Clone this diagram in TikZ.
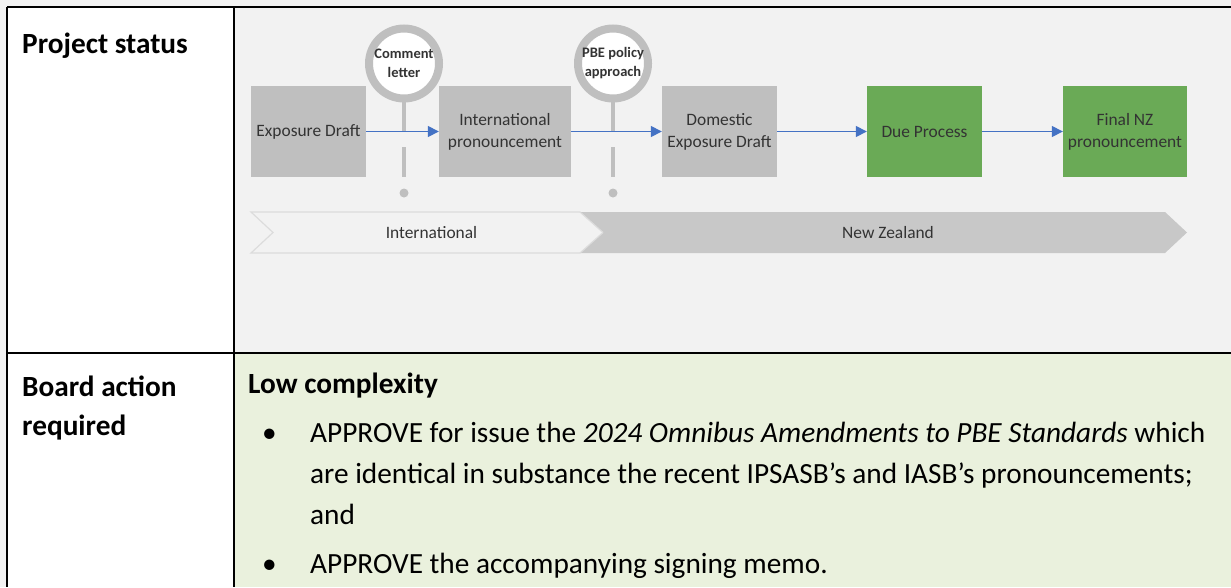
\documentclass[tikz,border=0pt]{standalone}
\usepackage{fontspec}
\setmainfont{Carlito}
\usetikzlibrary{arrows.meta}
\definecolor{bggray}{HTML}{F2F2F2}
\definecolor{boxgray}{HTML}{BFBFBF}
\definecolor{nzgray}{HTML}{C8C8C8}
\definecolor{chevline}{HTML}{DCDCDC}
\definecolor{boxgreen}{HTML}{6AAA56}
\definecolor{flowblue}{HTML}{4472C4}
\definecolor{cellgreen}{HTML}{EAF1DD}
\definecolor{txtgray}{HTML}{333333}
\begin{document}
\begin{tikzpicture}[x=1pt,y=-1pt,
  stage/.style={draw=none,inner sep=0pt,align=center,text=txtgray,font=\fontsize{17.4}{22}\selectfont},
  flow/.style={draw=flowblue,line width=1.5pt,-{Triangle[length=11pt,width=11pt]}},
  ring/.style={circle,draw=boxgray,line width=8pt,fill=white,minimum size=70pt,inner sep=0pt,align=center,font=\bfseries\fontsize{14.5}{19}\selectfont,text=txtgray},
  stem/.style={draw=boxgray,line width=4.5pt},
  bandtext/.style={inner sep=0pt,text=txtgray,font=\fontsize{17.4}{20}\selectfont},
  cellhead/.style={anchor=base west,inner sep=0pt,font=\bfseries\fontsize{29.3}{33}\selectfont},
  bodytext/.style={anchor=base west,inner sep=0pt,font=\fontsize{29.3}{33}\selectfont},
  tblline/.style={draw=black,line width=2pt}
]
\useasboundingbox (0,0) rectangle (1231,587);
\fill[bggray] (0,0) rectangle (1231,587);
\fill[white] (7,7) rectangle (234,587);
\fill[bggray] (234,7) rectangle (1231,353);
\fill[cellgreen] (234,353) rectangle (1231,587);

% stage boxes
\node[stage,fill=boxgray,minimum width=115pt,minimum height=91pt] (ed) at (308.5,131.5) {Exposure Draft};
\node[stage,fill=boxgray,minimum width=132pt,minimum height=91pt] (ip) at (505,131.5) {International\\pronouncement};
\node[stage,fill=boxgray,minimum width=115pt,minimum height=91pt] (ded) at (719.5,131.5) {Domestic\\Exposure Draft};
\node[stage,fill=boxgreen,minimum width=115pt,minimum height=91pt] (dp) at (924.5,131.5) {Due Process};
\node[stage,fill=boxgreen,minimum width=124pt,minimum height=91pt] (fin) at (1125,131.5) {Final NZ\\pronouncement};

% stems and rings
\coordinate (s1top) at (404,100);
\coordinate (s1bot) at (404,132);
\coordinate (d1a) at (404,147);
\coordinate (d1b) at (404,177);
\coordinate (s2top) at (613,100);
\coordinate (s2bot) at (613,132);
\coordinate (d2a) at (613,147);
\coordinate (d2b) at (613,177);
\draw[stem] (s1top) -- (s1bot);
\draw[stem] (d1a) -- (d1b);
\draw[stem] (s2top) -- (s2bot);
\draw[stem] (d2a) -- (d2b);
\fill[boxgray] (404,193) circle (4.5pt);
\fill[boxgray] (613,193) circle (4.5pt);
\node[ring] (cl) at (404,63.5) {Comment\\letter};
\node[ring] (pbe) at (613,63.5) {PBE policy\\approach};

% arrows
\draw[flow] (ed) -- (ip);
\draw[flow] (ip) -- (ded);
\draw[flow] (ded) -- (dp);
\draw[flow] (dp) -- (fin);

% chevrons
\fill[nzgray] (580,212) -- (1165,212) -- (1187,232.5) -- (1165,253) -- (580,253) -- cycle;
\fill[bggray] (251,212) -- (580,212) -- (603,232.5) -- (580,253) -- (251,253) -- (273,232.5) -- cycle;
\draw[chevline,line width=1.2pt] (603,232.5) -- (580,212) -- (251,212) -- (273,232.5) -- (251,253) -- (580,253) -- (603,232.5);
\node[bandtext] (intl) at (431.5,233) {International};
\node[bandtext] (nz) at (888,233) {New Zealand};

% table lines
\draw[tblline] (7,7) -- (1231,7);
\draw[tblline] (7,7) -- (7,587);
\draw[tblline] (234,7) -- (234,587);
\draw[tblline] (7,353) -- (1231,353);

% texts
\node[cellhead] (ps) at (22,53) {Project status};
\node[cellhead] (ba1) at (22,396) {Board action};
\node[cellhead] (ba2) at (22,435) {required};
\node[cellhead] (lc) at (248,393) {Low complexity};
\node[bodytext] (b1) at (262,442) {\textbullet};
\node[bodytext] (l1) at (310,442) {APPROVE for issue the \textit{2024 Omnibus Amendments to PBE Standards} which};
\node[bodytext] (l2) at (310,483) {are identical in substance the recent IPSASB’s and IASB’s pronouncements;};
\node[bodytext] (l3) at (310,524) {and};
\node[bodytext] (b2) at (262,573) {\textbullet};
\node[bodytext] (l4) at (310,573) {APPROVE the accompanying signing memo.};
\end{tikzpicture}
\end{document}
